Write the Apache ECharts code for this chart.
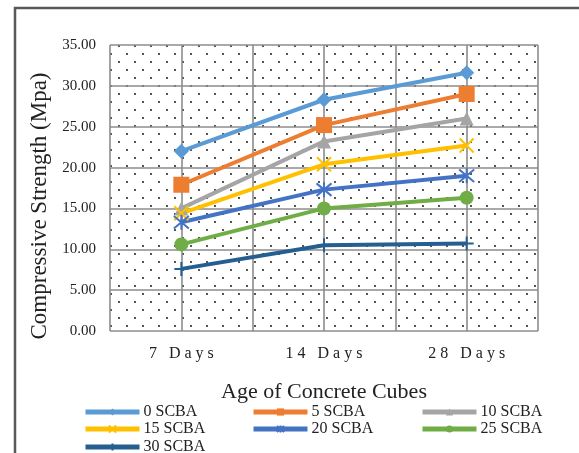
<!DOCTYPE html>
<html>
<head>
<meta charset="utf-8">
<script src="https://cdn.jsdelivr.net/npm/echarts@6/dist/echarts.min.js"></script>
<style>
  html, body { margin: 0; padding: 0; background: #fff; }
  #chart { width: 579px; height: 453px; }
</style>
</head>
<body>
<div id="chart"></div>
<script>
// Curing ages and compressive strength (MPa) per SCBA replacement level
const ages = ['7 Days', '14 Days', '28 Days'];
const seriesNames = ['0 SCBA', '5 SCBA', '10 SCBA', '15 SCBA', '20 SCBA', '25 SCBA', '30 SCBA'];
const scba0  = [22.0, 28.3, 31.6];
const scba5  = [17.9, 25.2, 29.0];
const scba10 = [15.0, 23.2, 26.0];
const scba15 = [14.4, 20.4, 22.7];
const scba20 = [13.3, 17.3, 19.0];
const scba25 = [10.6, 15.0, 16.3];
const scba30 = [7.6, 10.5, 10.7];
const yTicks = [0, 5, 10, 15, 20, 25, 30, 35];

const values = [scba0, scba5, scba10, scba15, scba20, scba25, scba30];
const colors = ['#5B9BD5', '#ED7D31', '#A5A5A5', '#FFC000', '#4472C4', '#70AD47', '#255E91'];
const symbols = [
  'diamond',
  'rect',
  'triangle',
  'path://M0,0L10,10M10,0L0,10',
  'path://M0,0L10,10M10,0L0,10M5,-1L5,11',
  'circle',
  'path://M0,5L10,5M5,0L5,10'
];
const symbolSizes = [15, 16, 14, 14, 15, 14, 14];
const outlineSymbol = [false, false, false, true, true, false, true];

// Dotted fill for the plot area
const tile = document.createElement('canvas');
tile.width = 16; tile.height = 16;
const tctx = tile.getContext('2d');
tctx.fillStyle = '#fff';
tctx.fillRect(0, 0, 16, 16);
tctx.fillStyle = '#555';
tctx.fillRect(6, 13, 2, 2);
tctx.fillRect(14, 5, 2, 2);

const serif = '"Liberation Serif", "DejaVu Serif", serif';
// Widely tracked category labels
const spaced = s => s.split('').join(' ');

const legendSlots = [
  [83, 404], [251, 404], [420, 404],
  [83, 421], [251, 421], [420, 421],
  [83, 439]
];

const chart = echarts.init(document.getElementById('chart'));
chart.setOption({
  animation: false,
  backgroundColor: '#fff',
  graphic: [{
    type: 'rect',
    left: 12.5, top: 5.5,
    shape: { width: 700, height: 600 },
    style: { fill: 'none', stroke: '#595959', lineWidth: 2.5 },
    z: -1
  }],
  grid: {
    left: 110, right: 41, top: 45, bottom: 122,
    show: true,
    borderWidth: 0,
    backgroundColor: { image: tile, repeat: 'repeat' }
  },
  legend: seriesNames.map((name, i) => ({
    data: [name],
    left: legendSlots[i][0],
    top: legendSlots[i][1],
    itemWidth: 54,
    itemHeight: 9,
    itemGap: 0,
    padding: 0,
    lineStyle: { width: 5 },
    textStyle: { fontFamily: serif, fontSize: 16, color: '#222', padding: [0, 0, 0, -1] }
  })),
  xAxis: [{
    type: 'category',
    data: ages,
    boundaryGap: true,
    name: 'Age of Concrete Cubes',
    nameLocation: 'middle',
    nameGap: 50,
    nameTextStyle: { fontFamily: serif, fontSize: 22, color: '#222' },
    axisLine: { show: false },
    axisTick: { show: false },
    splitLine: { show: false },
    axisLabel: {
      margin: 15,
      fontFamily: serif, fontSize: 16, color: '#222',
      formatter: v => spaced(v)
    }
  }, {
    type: 'value',
    min: 0, max: 6, interval: 1,
    show: true,
    axisLine: { show: false },
    axisTick: { show: false },
    axisLabel: { show: false },
    splitLine: { show: true, lineStyle: { color: '#8c8c8c', width: 1.6 } }
  }],
  yAxis: {
    type: 'value',
    min: yTicks[0], max: yTicks[yTicks.length - 1], interval: 5,
    name: 'Compressive Strength (Mpa)',
    nameLocation: 'middle',
    nameGap: 58,
    nameTextStyle: { fontFamily: serif, fontSize: 23, color: '#222', padding: [0, 36, 0, 0] },
    axisLine: { show: false },
    axisTick: { show: false },
    axisLabel: {
      margin: 14,
      fontFamily: serif, fontSize: 15, color: '#222',
      formatter: v => v.toFixed(2)
    },
    splitLine: { show: true, lineStyle: { color: '#8c8c8c', width: 1.6 } }
  },
  series: seriesNames.map((name, i) => ({
    name,
    type: 'line',
    xAxisIndex: 0,
    data: values[i],
    symbol: symbols[i],
    symbolSize: symbolSizes[i],
    showSymbol: true,
    lineStyle: { color: colors[i], width: 4 },
    itemStyle: outlineSymbol[i]
      ? { color: colors[i], borderColor: colors[i], borderWidth: 2 }
      : { color: colors[i], borderWidth: 0 },
    emphasis: { disabled: true }
  }))
});
</script>
</body>
</html>
